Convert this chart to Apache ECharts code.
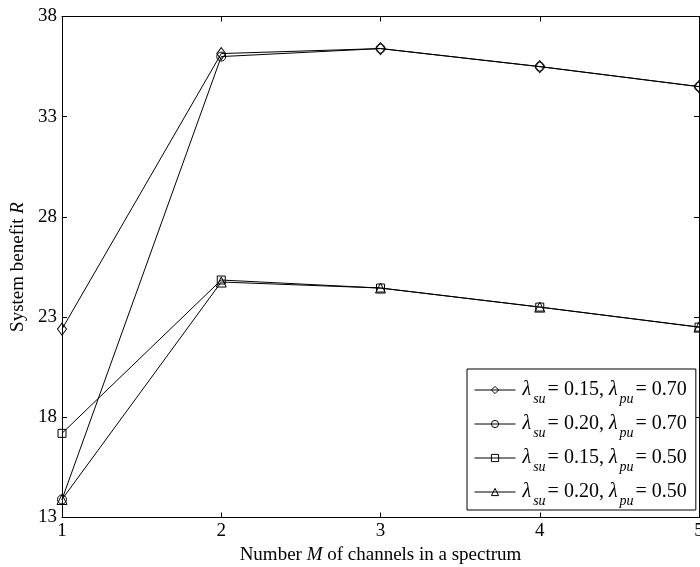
<!DOCTYPE html>
<html>
<head>
<meta charset="utf-8">
<script src="https://cdn.jsdelivr.net/npm/echarts@6/dist/echarts.min.js"></script>
<style>html,body{margin:0;padding:0;background:#fff;overflow:hidden;}#c{width:700px;height:567px;}</style>
</head>
<body>
<div id="c"></div>
<script>
var xValues = [1, 2, 3, 4, 5];
var yTicks = [13, 18, 23, 28, 33, 38];
var seriesNames = ['s1', 's2', 's3', 's4'];
var legendParts = [
  ['0.15', '0.70'],
  ['0.20', '0.70'],
  ['0.15', '0.50'],
  ['0.20', '0.50']
];
var s1 = [22.4, 36.15, 36.4, 35.5, 34.5];
var s2 = [13.9, 36.0, 36.4, 35.5, 34.5];
var s3 = [17.2, 24.85, 24.45, 23.5, 22.5];
var s4 = [13.9, 24.75, 24.45, 23.5, 22.5];
var symbols = ['diamond', 'circle', 'rect', 'triangle'];
var symbolSizes = [[9, 12], 9, 8, 10];

var FONT = 'Liberation Serif';
var allData = [s1, s2, s3, s4];

function pairs(arr) { return xValues.map(function (x, i) { return [x, arr[i]]; }); }

var series = allData.map(function (d, k) {
  return {
    name: seriesNames[k],
    type: 'line',
    data: pairs(d),
    symbol: symbols[k],
    symbolSize: symbolSizes[k],
    showAllSymbol: true,
    clip: false,
    lineStyle: { color: '#000', width: 1 },
    itemStyle: { color: 'transparent', borderColor: '#000', borderWidth: 1 },
    emphasis: { disabled: true },
    animation: false
  };
});

var chart = echarts.init(document.getElementById('c'), null, { renderer: 'canvas' });
var axisCommon = {
  axisLine: { show: true, lineStyle: { color: '#000', width: 1 } },
  axisTick: { show: true, inside: true, length: 5, lineStyle: { color: '#000', width: 1 } },
  splitLine: { show: false }
};
chart.setOption({
  backgroundColor: '#fff',
  animation: false,
  grid: { left: 62, right: 1, top: 16.5, bottom: 49.5, containLabel: false, outerBoundsMode: 'none' },
  xAxis: [
    Object.assign({
      type: 'value', min: 1, max: 5, interval: 1, position: 'bottom',
      axisLabel: { color: '#000', fontFamily: FONT, fontSize: 19, margin: 4 },
      name: '{n|Number }{m|M}{n| of channels in a spectrum}',
      nameLocation: 'middle', nameGap: 25,
      nameTextStyle: {
        rich: {
          n: { fontFamily: FONT, fontSize: 19, color: '#000' },
          m: { fontFamily: FONT, fontSize: 19, color: '#000', fontStyle: 'italic' }
        }
      }
    }, axisCommon),
    Object.assign({
      type: 'value', min: 1, max: 5, interval: 1, position: 'top',
      axisLabel: { show: false }
    }, axisCommon)
  ],
  yAxis: [
    Object.assign({
      type: 'value', min: yTicks[0], max: yTicks[yTicks.length - 1], interval: 5, position: 'left',
      axisLabel: { color: '#000', fontFamily: FONT, fontSize: 19, margin: 5 },
      name: '{n|System benefit }{m|R}',
      nameLocation: 'middle', nameGap: 33,
      nameTextStyle: {
        rich: {
          n: { fontFamily: FONT, fontSize: 19, color: '#000' },
          m: { fontFamily: FONT, fontSize: 19, color: '#000', fontStyle: 'italic' }
        }
      }
    }, axisCommon),
    Object.assign({
      type: 'value', min: yTicks[0], max: yTicks[yTicks.length - 1], interval: 5, position: 'right',
      axisLabel: { show: false }
    }, axisCommon)
  ],
  legend: {
    show: true,
    orient: 'vertical',
    left: 467, top: 369,
    padding: [11, 9, 2, 7],
    itemGap: 8,
    itemWidth: 41,
    itemHeight: 9,
    backgroundColor: '#fff',
    borderColor: '#000',
    borderWidth: 1,
    itemStyle: { color: 'transparent', borderColor: '#000', borderWidth: 1 },
    lineStyle: { color: '#000', width: 1 },
    data: seriesNames,
    formatter: function (name) {
      var p = legendParts[seriesNames.indexOf(name)];
      return '{l|λ}{s|su}{t|= ' + p[0] + ', }{l|λ}{s|pu}{t|= ' + p[1] + '}';
    },
    textStyle: {
      fontFamily: FONT, fontSize: 20, color: '#000', padding: [0, 0, 0, 2],
      rich: {
        l: { fontFamily: FONT, fontSize: 20, fontStyle: 'italic', color: '#000', lineHeight: 32, verticalAlign: 'middle' },
        s: { fontFamily: FONT, fontSize: 14, fontStyle: 'italic', color: '#000', lineHeight: 14, verticalAlign: 'bottom', padding: [0, 2, 0, 2] },
        t: { fontFamily: FONT, fontSize: 20, color: '#000', lineHeight: 32, verticalAlign: 'middle' }
      }
    }
  },
  series: series
});
</script>
</body>
</html>
